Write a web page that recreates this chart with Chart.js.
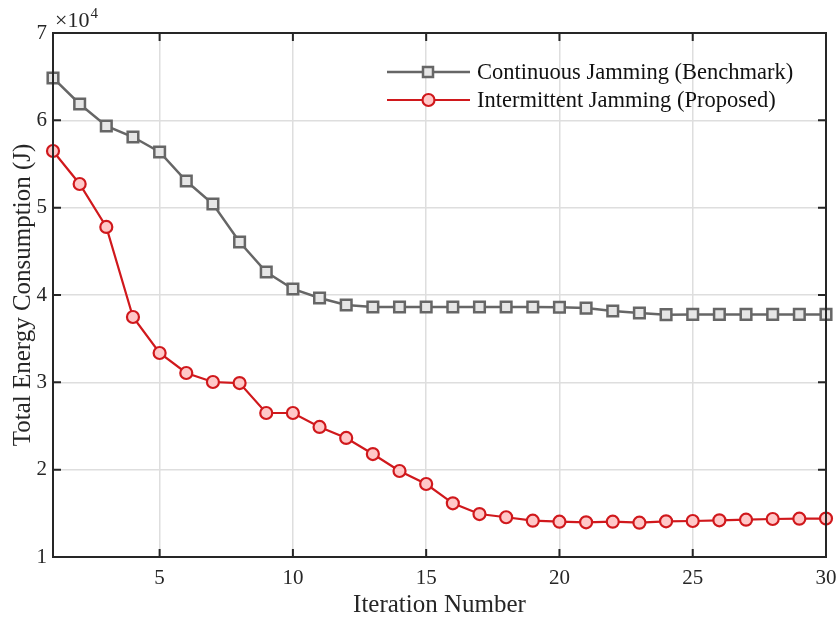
<!DOCTYPE html>
<html>
<head>
<meta charset="utf-8">
<script src="https://cdn.jsdelivr.net/npm/chart.js@4/dist/chart.umd.min.js"></script>
<style>
  html, body { margin: 0; padding: 0; background: #fff; }
  #wrap { width: 840px; height: 620px; }
</style>
</head>
<body>
<div id="wrap"><canvas id="c" width="840" height="620"></canvas></div>
<script>
const iterations = [1,2,3,4,5,6,7,8,9,10,11,12,13,14,15,16,17,18,19,20,21,22,23,24,25,26,27,28,29,30];
const continuousJamming = [64850,61870,59350,58090,56380,53050,50420,46070,42630,40690,39660,38860,38630,38630,38630,38630,38630,38630,38630,38600,38500,38170,37940,37750,37780,37780,37780,37780,37780,37780];
const intermittentJamming = [56490,52710,47790,37480,33360,31070,30040,29920,26490,26490,24890,23630,21790,19850,18360,16150,14920,14550,14160,14040,13970,14040,13930,14090,14120,14200,14270,14350,14390,14400];
const xTicks = [5,10,15,20,25,30];
const yTicks = [10000,20000,30000,40000,50000,60000,70000];
const seriesNames = ['Continuous Jamming (Benchmark)', 'Intermittent Jamming (Proposed)'];

const FONT = "'Liberation Serif', 'Times New Roman', serif";
const GRAY = '#666666', GRAY_FILL = '#e6e6e6';
const RED = '#d0181c', RED_FILL = '#ffc8c8';
const AXIS = '#262626';

const toXY = (arr) => arr.map((v, i) => ({ x: iterations[i], y: v }));

const framePlugin = {
  id: 'frame',
  afterDraw(chart) {
    const { ctx, chartArea: a, scales } = chart;
    ctx.save();
    ctx.strokeStyle = AXIS;
    ctx.lineWidth = 2;
    ctx.strokeRect(a.left, a.top, a.right - a.left, a.bottom - a.top);
    ctx.beginPath();
    xTicks.forEach(t => {
      const px = scales.x.getPixelForValue(t);
      ctx.moveTo(px, a.bottom); ctx.lineTo(px, a.bottom - 8);
      ctx.moveTo(px, a.top); ctx.lineTo(px, a.top + 8);
    });
    yTicks.forEach(t => {
      const py = scales.y.getPixelForValue(t);
      ctx.moveTo(a.left, py); ctx.lineTo(a.left + 8, py);
      ctx.moveTo(a.right, py); ctx.lineTo(a.right - 8, py);
    });
    ctx.stroke();
    // exponent label
    ctx.fillStyle = AXIS;
    ctx.textBaseline = 'alphabetic';
    ctx.textAlign = 'left';
    ctx.font = '22px ' + FONT;
    ctx.fillText('\u00d710', a.left + 2, 27);
    const w = ctx.measureText('\u00d710').width;
    ctx.font = '15px ' + FONT;
    ctx.fillText('4', a.left + 2 + w + 1, 18);
    // legend
    const items = [
      { name: seriesNames[0], color: GRAY, fill: GRAY_FILL, style: 'rect', lw: 2.5 },
      { name: seriesNames[1], color: RED, fill: RED_FILL, style: 'circle', lw: 2.2 }
    ];
    items.forEach((it, i) => {
      const y = 72 + i * 28;
      ctx.strokeStyle = it.color;
      ctx.lineWidth = it.lw;
      ctx.beginPath();
      ctx.moveTo(387, y); ctx.lineTo(470, y);
      ctx.stroke();
      ctx.fillStyle = it.fill;
      ctx.beginPath();
      if (it.style === 'rect') {
        ctx.rect(423, y - 5, 10, 10);
      } else {
        ctx.arc(428.5, y, 6, 0, Math.PI * 2);
      }
      ctx.fill();
      ctx.stroke();
      ctx.fillStyle = '#111';
      ctx.font = '22.5px ' + FONT;
      ctx.textBaseline = 'middle';
      ctx.fillText(it.name, 477, y + 1);
    });
    ctx.restore();
  }
};

new Chart(document.getElementById('c'), {
  type: 'line',
  data: {
    datasets: [
      {
        label: seriesNames[0],
        data: toXY(continuousJamming),
        borderColor: GRAY,
        backgroundColor: GRAY_FILL,
        borderWidth: 2.5,
        pointStyle: 'rect',
        pointRadius: 7.5,
        pointBorderWidth: 2.5,
        pointBorderColor: GRAY,
        pointBackgroundColor: GRAY_FILL,
        tension: 0,
        clip: false
      },
      {
        label: seriesNames[1],
        data: toXY(intermittentJamming),
        borderColor: RED,
        backgroundColor: RED_FILL,
        borderWidth: 2.2,
        pointStyle: 'circle',
        pointRadius: 6,
        pointBorderWidth: 2.2,
        pointBorderColor: RED,
        pointBackgroundColor: RED_FILL,
        tension: 0,
        clip: false
      }
    ]
  },
  options: {
    responsive: false,
    animation: false,
    devicePixelRatio: 1,
    layout: { padding: { top: 33, right: 14, left: 0, bottom: 0 } },
    plugins: { legend: { display: false }, tooltip: { enabled: false } },
    scales: {
      x: {
        type: 'linear',
        min: 1, max: 30,
        afterBuildTicks(scale) { scale.ticks = xTicks.map(v => ({ value: v })); },
        afterFit(scale) { scale.height = 63; scale.paddingRight = 0; scale.paddingLeft = 0; },
        grid: { color: '#dedede', lineWidth: 1.5, drawTicks: false },
        border: { display: false },
        ticks: { color: AXIS, font: { family: FONT, size: 21 }, padding: 9, maxRotation: 0 },
        title: { display: true, text: 'Iteration Number', color: AXIS, font: { family: FONT, size: 25 }, padding: { top: 0, bottom: 0 } }
      },
      y: {
        type: 'linear',
        min: 10000, max: 70000,
        afterBuildTicks(scale) { scale.ticks = yTicks.map(v => ({ value: v })); },
        afterFit(scale) { scale.width = 53; scale.paddingTop = 0; scale.paddingBottom = 0; },
        grid: { color: '#dedede', lineWidth: 1.5, drawTicks: false },
        border: { display: false },
        ticks: { color: AXIS, font: { family: FONT, size: 21 }, padding: 6, callback: v => String(v / 10000) },
        title: { display: true, text: 'Total Energy Consumption (J)', color: AXIS, font: { family: FONT, size: 25 }, padding: { top: 8, bottom: 0 } }
      }
    }
  },
  plugins: [framePlugin]
});
</script>
</body>
</html>
